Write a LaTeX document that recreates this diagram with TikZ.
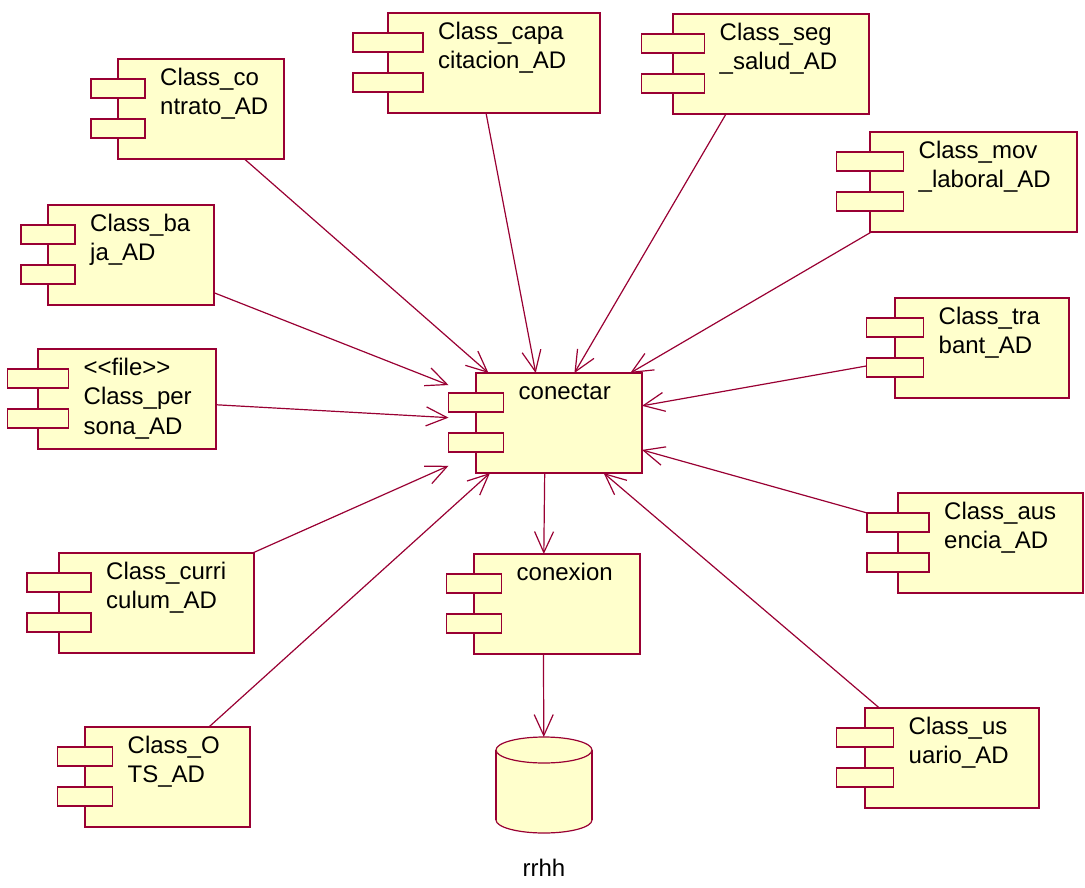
\documentclass[tikz,border=0pt]{standalone}
\usepackage{fontspec}
\setmainfont{Liberation Sans}
\usetikzlibrary{arrows.meta}
\definecolor{compfill}{RGB}{255,255,204}
\definecolor{compline}{RGB}{153,0,51}
\newcommand{\compfont}{\fontsize{24}{29.5}\selectfont}
\tikzset{
  compframe/.style={rectangle, inner sep=0pt, outer sep=0pt, minimum height=100},
  compbox/.style={draw=compline, fill=compfill, line width=1.2pt},
  comptext/.style={anchor=north west, inner sep=0pt, align=left, font=\compfont},
  uses/.style={draw=compline, line width=1.2pt, -{Straight Barb[length=21pt,width=19pt]}},
}
% #1 name, #2 left, #3 top, #4 right, #5 port width, #6 text
\newcommand{\Component}[6]{%
  \node[compframe, minimum width={#4-#2+#5/2}] (#1) at ({(#2-#5/2+#4)/2},{#3+50}) {};
  \draw[compbox] (#2,#3) rectangle (#4,#3+100);
  \draw[compbox] (#2-#5/2,#3+20) rectangle (#2+#5/2,#3+39);
  \draw[compbox] (#2-#5/2,#3+60) rectangle (#2+#5/2,#3+79);
  \node[comptext] (#1-text) at (#2+#5/2+15,#3+5.3) {\strut#6};
}

\begin{document}
\begin{tikzpicture}[x=1pt,y=-1pt]
    \useasboundingbox (0,0) rectangle (1085,887);
    % components
    \Component{contrato}{118}{59}{284}{54}{Class\_co\\ntrato\_AD}
    \Component{capacitacion}{388}{13}{600}{70}{Class\_capa\\citacion\_AD}
    \Component{segsalud}{673}{14}{869}{63}{Class\_seg\\\_salud\_AD}
    \Component{movlaboral}{870}{132}{1077}{67}{Class\_mov\\\_laboral\_AD}
    \Component{baja}{48}{205}{214}{54}{Class\_ba\\ja\_AD}
    \Component{trabant}{895}{298}{1069}{57}{Class\_tra\\bant\_AD}
    \Component{persona}{38}{349}{216}{61}{\mbox{<}\mbox{<}file\mbox{>}\mbox{>}\\Class\_per\\sona\_AD}
    \Component{conectar}{476}{373}{642}{55}{conectar}
    \Component{ausencia}{898}{493}{1083}{62}{Class\_aus\\encia\_AD}
    \Component{curriculum}{59}{553}{254}{64}{Class\_curri\\culum\_AD}
    \Component{conexion}{474}{554}{640}{55}{conexion}
    \Component{ots}{85}{727}{250}{55}{Class\_O\\TS\_AD}
    \Component{usuario}{865}{708}{1039}{57}{Class\_us\\uario\_AD}
    % database
    \node[compframe, minimum width=96, minimum height=96] (rrhh) at (544,785) {};
    \fill[compfill] (496,750) rectangle (592,820);
    \fill[compfill] (544,820) ellipse [x radius=48pt, y radius=13pt];
    \draw[compline, line width=1.2pt] (496,750) -- (496,820);
    \draw[compline, line width=1.2pt] (592,750) -- (592,820);
    \begin{scope}
      \clip (490,820) rectangle (598,840);
      \draw[compline, line width=1.2pt] (544,820) ellipse [x radius=48pt, y radius=13pt];
    \end{scope}
    \draw[compbox] (544,750) ellipse [x radius=48pt, y radius=13pt];
    \node[font=\compfont, anchor=base, inner sep=0pt] (rrhh-text) at (544,876) {rrhh};
    % dependencies
    \foreach \src in {contrato,capacitacion,segsalud,movlaboral,baja,trabant,
                      persona,ausencia,curriculum,ots,usuario}
      \draw[uses] (\src) -- (conectar);
    \draw[uses] (conectar) -- (conexion);
    \draw[uses] (conexion) -- (rrhh);
\end{tikzpicture}
\end{document}
